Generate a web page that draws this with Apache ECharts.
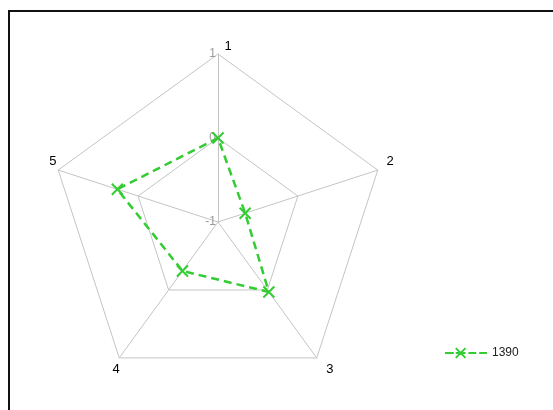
<!DOCTYPE html>
<html>
<head>
<meta charset="utf-8">
<script src="https://cdn.jsdelivr.net/npm/echarts@6/dist/echarts.min.js"></script>
<style>
	html, body { margin: 0; padding: 0; background: #fff; }
	#chart { width: 553px; height: 410px; position: absolute; left: 0; top: 0; }
	#frame { position: absolute; left: 8px; top: 10px; width: 560px; height: 420px; border-top: 2px solid #111; border-left: 2px solid #111; }
</style>
</head>
<body>
<div id="frame"></div>
<div id="chart"></div>
<script>
var axisNames = ['1', '2', '3', '4', '5'];
var seriesName = '1390';
var seriesValues = [0, -0.66, 0.03, -0.28, 0.26];
var axisMin = -1;
var axisMax = 1;

var green = '#33cc33';

// small nudges so the spoke names sit like the original (top, right, bottom-right, bottom-left, left)
var nameStyles = [
	{ padding: [0, 0, -5, 20] },
	{ padding: [0, 0, 0, 3], verticalAlign: 'bottom' },
	{ padding: [0, 0, 0, 6], verticalAlign: 'top' },
	{ padding: [0, -4, 0, 0], verticalAlign: 'top' },
	{ padding: [0, -4, 0, 0], verticalAlign: 'bottom' }
];

// echarts lays spokes out counter-clockwise, the original goes clockwise:
// keep spoke 1 first and reverse the rest
var order = [0, 4, 3, 2, 1];

var indicators = order.map(function (i) {
	var ind = { name: axisNames[i], min: axisMin, max: axisMax, nameTextStyle: nameStyles[i] };
	// only the first spoke carries the scale labels
	if (i === 0) ind.axisLabel = { show: true };
	return ind;
});
var values = order.map(function (i) { return seriesValues[i]; });

var chart = echarts.init(document.getElementById('chart'), null, { renderer: 'canvas' });
chart.setOption({
	animation: false,
	backgroundColor: 'transparent',
	legend: {
		left: 439,
		top: 342,
		orient: 'vertical',
		itemWidth: 42,
		itemHeight: 10,
		itemGap: 4,
		icon: 'path://M0,6L9,6M11,1L21,11M21,1L11,11M11,6L21,6M24,6L32,6M35,6L43,6',
		textStyle: { fontFamily: 'Liberation Sans', fontSize: 12, color: '#222' },
		data: [seriesName]
	},
	radar: {
		center: [218, 222],
		radius: 168,
		startAngle: 90,
		shape: 'polygon',
		splitNumber: 2,
		indicator: indicators,
		axisName: {
			color: '#000',
			fontFamily: 'Liberation Sans',
			fontSize: 13
		},
		nameGap: 6,
		axisLine: { lineStyle: { color: '#c4c4c4', width: 1 } },
		splitLine: { lineStyle: { color: '#c4c4c4', width: 1 } },
		splitArea: { show: false },
		axisTick: { show: false },
		axisLabel: {
			show: false,
			color: '#999',
			fontFamily: 'Liberation Sans',
			fontSize: 12,
			margin: 2
		}
	},
	series: [{
		type: 'radar',
		name: seriesName,
		symbol: 'path://M0,0L10,10M10,0L0,10',
		symbolSize: 11,
		itemStyle: { color: green, borderColor: green, borderWidth: 2 },
		lineStyle: { color: green, width: 2.5, type: [8, 5] },
		data: [{ value: values, name: seriesName }]
	}]
});
</script>
</body>
</html>
